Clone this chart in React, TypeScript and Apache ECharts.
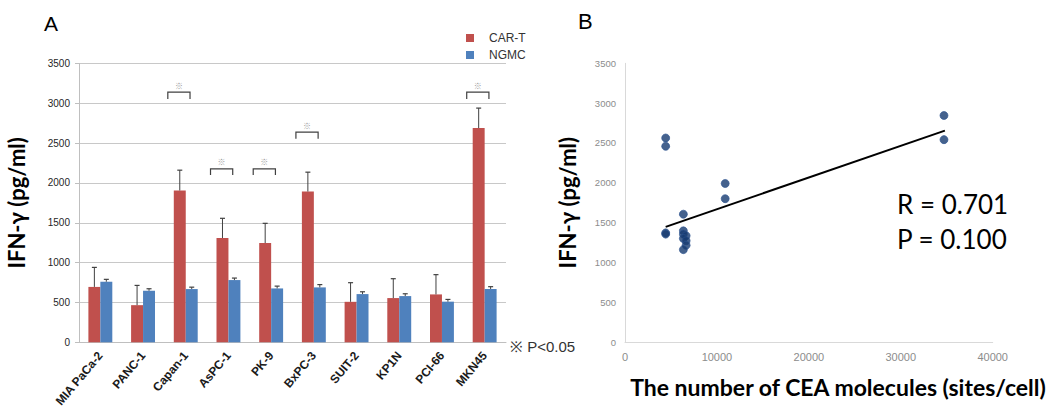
import React, { useEffect, useRef } from "react";
import * as echarts from "echarts";

const categories = ["MIA PaCa-2", "PANC-1", "Capan-1", "AsPC-1", "PK-9", "BxPC-3", "SUIT-2", "KP1N", "PCI-66", "MKN45"];
const carT = [695, 466, 1905, 1309, 1246, 1892, 508, 555, 601, 2688];
const carTUpper = [940, 714, 2160, 1556, 1493, 2135, 748, 798, 849, 2939];
const ngmc = [760, 647, 668, 781, 676, 689, 605, 580, 510, 669];
const ngmcUpper = [790, 672, 692, 806, 705, 724, 634, 609, 538, 698];
const sigIndex = [2, 3, 4, 5, 9];
const sigTop = [3140, 2177, 2177, 2638, 3140];
const sigBottom = [3052, 2101, 2101, 2553, 3052];

const ceaSites = [4425, 4425, 34700, 34700, 10900, 10900, 4425, 4425, 6350, 6350, 6350, 6650, 6350, 6650, 6650, 6350];
const ifnValues = [2562, 2458, 2845, 2541, 1991, 1800, 1370, 1355, 1605, 1396, 1355, 1334, 1300, 1271, 1215, 1160];
const trendX = [4425, 34800];
const trendY = [1446, 2654];

const yTicksMax = 3500;
const yTickStep = 500;
const xTicksMaxB = 40000;
const xTickStepB = 10000;

const RED = "#C0504D";
const BLUE = "#4F81BD";

const plain = (v: number) => String(v);

export default function App() {
  const ref = useRef<HTMLDivElement>(null);
  useEffect(() => {
    if (!ref.current) return;
    const chart = echarts.init(ref.current, null, { renderer: "svg" });
    const errData: any[] = [];
    carT.forEach((v, i) => errData.push([i, v, carTUpper[i], -1]));
    ngmc.forEach((v, i) => errData.push([i, v, ngmcUpper[i], 1]));
    const sigData = sigIndex.map((c, k) => [c, sigTop[k], sigBottom[k]]);
    const option: any = {
      animation: false,
      backgroundColor: "#fff",
      legend: {
        data: ["CAR-T", "NGMC"],
        orient: "vertical",
        left: 461,
        top: 27,
        icon: "rect",
        itemWidth: 8,
        itemHeight: 8,
        itemGap: 5,
        textStyle: { fontSize: 12, color: "#333", fontFamily: "Liberation Sans", padding: [0, 0, 0, 10] },
      },
      grid: [
        { left: 79, top: 63.4, width: 427, height: 278.9 },
        { left: 625, top: 63.3, width: 367.7, height: 278.7 },
      ],
      xAxis: [
        {
          type: "category",
          gridIndex: 0,
          data: categories,
          axisLine: { lineStyle: { color: "#BFBFBF" } },
          axisTick: { show: false },
          axisLabel: { rotate: 50, interval: 0, fontSize: 12, fontWeight: "bold", color: "#1a1a1a", fontFamily: "Liberation Sans", margin: 11 },
        },
        {
          type: "value",
          gridIndex: 1,
          min: 0,
          max: xTicksMaxB,
          interval: xTickStepB,
          axisLine: { show: true, lineStyle: { color: "#D9D9D9" } },
          axisTick: { show: false },
          splitLine: { show: false },
          axisLabel: { fontSize: 11, color: "#8C8C8C", fontFamily: "Liberation Sans", margin: 9, formatter: plain },
        },
      ],
      yAxis: [
        {
          type: "value",
          gridIndex: 0,
          min: 0,
          max: yTicksMax,
          interval: yTickStep,
          axisLine: { show: true, lineStyle: { color: "#BFBFBF" } },
          axisTick: { show: true, length: 4, lineStyle: { color: "#BFBFBF" } },
          splitLine: { lineStyle: { color: "#C8C8C8" } },
          axisLabel: { fontSize: 10, color: "#1f1f1f", fontFamily: "Liberation Sans", margin: 9, formatter: plain },
          name: "IFN-γ (pg/ml)",
          nameLocation: "middle",
          nameGap: 52,
          nameTextStyle: { fontSize: 22, fontWeight: "bold", color: "#000", fontFamily: "Lato" },
        },
        {
          type: "value",
          gridIndex: 1,
          min: 0,
          max: yTicksMax,
          interval: yTickStep,
          axisLine: { show: true, lineStyle: { color: "#D9D9D9" } },
          axisTick: { show: false },
          splitLine: { show: false },
          axisLabel: { fontSize: 9.5, color: "#8C8C8C", fontFamily: "Liberation Sans", margin: 9, formatter: plain },
          name: "IFN-γ (pg/ml)",
          nameLocation: "middle",
          nameGap: 47,
          nameTextStyle: { fontSize: 22, fontWeight: "bold", color: "#000", fontFamily: "Lato" },
        },
      ],
      series: [
        { name: "CAR-T", type: "bar", xAxisIndex: 0, yAxisIndex: 0, data: carT, barWidth: "28%", barGap: "0%", itemStyle: { color: RED } },
        { name: "NGMC", type: "bar", xAxisIndex: 0, yAxisIndex: 0, data: ngmc, barWidth: "28%", barGap: "0%", itemStyle: { color: BLUE } },
        {
          type: "custom",
          xAxisIndex: 0,
          yAxisIndex: 0,
          data: errData,
          encode: { x: 0, y: [1, 2] },
          z: 5,
          renderItem: (params: any, api: any) => {
            const bw = api.size([1, 0])[0];
            const off = api.value(3) * bw * 0.14;
            const p0 = api.coord([api.value(0), api.value(1)]);
            const p1 = api.coord([api.value(0), api.value(2)]);
            const x = p0[0] + off;
            return {
              type: "group",
              children: [
                { type: "line", shape: { x1: x, y1: p0[1], x2: x, y2: p1[1] }, style: { stroke: "#404040", lineWidth: 1 } },
                { type: "line", shape: { x1: x - 2.5, y1: p1[1], x2: x + 2.5, y2: p1[1] }, style: { stroke: "#404040", lineWidth: 1.2 } },
              ],
            };
          },
        },
        {
          type: "custom",
          xAxisIndex: 0,
          yAxisIndex: 0,
          data: sigData,
          encode: { x: 0, y: [1, 2] },
          z: 5,
          renderItem: (params: any, api: any) => {
            const bw = api.size([1, 0])[0];
            const t = api.coord([api.value(0), api.value(1)]);
            const b = api.coord([api.value(0), api.value(2)]);
            const xl = t[0] - 0.42 * bw;
            const xr = t[0] + 0.1 * bw;
            return {
              type: "group",
              children: [
                {
                  type: "polyline",
                  shape: { points: [[xl, b[1]], [xl, t[1]], [xr, t[1]], [xr, b[1]]] },
                  style: { stroke: "#404040", lineWidth: 1.2, fill: "none" },
                },
                {
                  type: "text",
                  x: (xl + xr) / 2,
                  y: t[1] - 7,
                  style: { text: "※", fontSize: 8, fill: "#9a9a9a", align: "center", verticalAlign: "middle", fontFamily: "Noto Sans CJK JP" },
                },
              ],
            };
          },
        },
        {
          type: "scatter",
          xAxisIndex: 1,
          yAxisIndex: 1,
          data: ceaSites.map((x, i) => [x, ifnValues[i]]),
          symbolSize: 8,
          itemStyle: { color: "#163B70", borderColor: "#2a5290", borderWidth: 0.8 },
          z: 3,
        },
        {
          type: "line",
          xAxisIndex: 1,
          yAxisIndex: 1,
          data: trendX.map((x, i) => [x, trendY[i]]),
          symbol: "none",
          lineStyle: { color: "#000", width: 2 },
          z: 4,
        },
      ],
      graphic: [
        { type: "text", left: 44, top: 13, style: { text: "A", fontSize: 21, fontFamily: "Liberation Sans", fill: "#000" } },
        { type: "text", left: 578, top: 10, style: { text: "B", fontSize: 22, fontFamily: "Liberation Sans", fill: "#000" } },
        { type: "text", left: 510, top: 339, style: { text: "※ P<0.05", fontSize: 15, fontFamily: "Liberation Sans", fill: "#333" } },
        { type: "text", left: 897, top: 191, style: { text: "R = 0.701", fontSize: 26, fontFamily: "Lato", fill: "#000" } },
        { type: "text", left: 897, top: 226, style: { text: "P = 0.100", fontSize: 26, fontFamily: "Lato", fill: "#000" } },
        {
          type: "text",
          x: 838,
          y: 387,
          style: { text: "The number of CEA molecules (sites/cell)", fontSize: 23, fontWeight: "bold", fontFamily: "Lato", fill: "#000", align: "center", verticalAlign: "middle" },
        },
      ],
    };
    chart.setOption(option);
    return () => chart.dispose();
  }, []);
  return (
    <div
      ref={ref}
      style={{ position: "absolute", left: 0, top: 0, width: 1057, height: 414, background: "#fff" }}
    />
  );
}
